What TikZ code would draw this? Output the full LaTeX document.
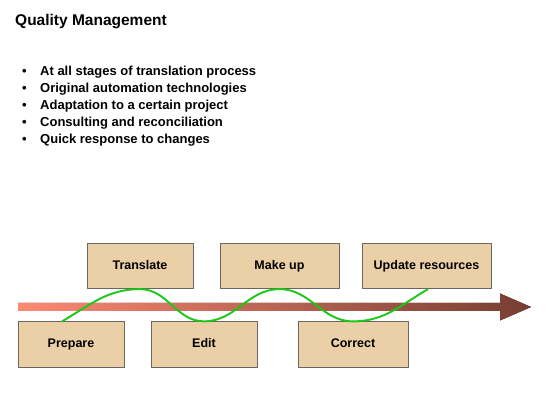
\documentclass[tikz,border=0pt]{standalone}
\usepackage{fontspec}
\setmainfont{Liberation Sans}
\usetikzlibrary{calc}

\definecolor{boxfill}{RGB}{235,208,167}
\definecolor{boxline}{RGB}{107,102,97}
\definecolor{wavegreen}{RGB}{25,200,25}
\definecolor{arrowstart}{RGB}{252,138,115}
\definecolor{arrowend}{RGB}{118,62,50}

\begin{document}
\begin{tikzpicture}[x=1pt, y=1pt, line cap=round, line join=round,
  stage/.style={draw=boxline, fill=boxfill, line width=0.8pt, minimum height=45.5pt, inner sep=0pt, text height=9pt, text depth=2.6pt, font=\fontsize{12.5}{14}\selectfont\bfseries},
  point/.style={anchor=base west, inner sep=0pt, font=\fontsize{13}{15}\selectfont\bfseries}]
  \path[use as bounding box, fill=white] (0,0) rectangle (550,413);
  % title
  \node[anchor=base west, inner sep=0pt, font=\fontsize{15.5}{18}\selectfont\bfseries] (title) at (15,387) {Quality Management};
  % bullets
  \foreach \txt [count=\i] in {At all stages of translation process, Original automation technologies, Adaptation to a certain project, Consulting and reconciliation, Quick response to changes}{
    \node[point] (dot\i) at (22,354-17*\i) {\textbullet};
    \node[point] (item\i) at (40,354-17*\i) {\txt};
  }
  % arrow
  \coordinate (tail) at (18,106);
  \coordinate (tip) at (531,106);
  \fill[left color=arrowstart, right color=arrowend] ($(tail)+(0,4)$) -- ($(tip)+(-31,4)$) -- ($(tip)+(-31,13.5)$) -- (tip) -- ($(tip)+(-31,-13.5)$) -- ($(tip)+(-31,-4)$) -- ($(tail)+(0,-4)$) -- cycle;
  % stages
  \node[stage, minimum width=106pt] (prepare) at (71,68.5) {Prepare};
  \node[stage, minimum width=106pt] (translate) at (140,147) {Translate};
  \node[stage, minimum width=106pt] (edit) at (204,68.5) {Edit};
  \node[stage, minimum width=119pt] (makeup) at (279.5,147) {Make up};
  \node[stage, minimum width=110pt] (correct) at (353,68.5) {Correct};
  \node[stage, minimum width=129pt] (update) at (426.5,147) {Update resources};
  % wave
  \draw[wavegreen, line width=1.9pt, line cap=butt] ([xshift=-9pt]prepare.north) to[out=30,in=180] (translate.south) to[out=0,in=180] (edit.north) to[out=0,in=180] (makeup.south) to[out=0,in=180] (correct.north) to[out=0,in=210] ([xshift=1.5pt]update.south);
\end{tikzpicture}
\end{document}
